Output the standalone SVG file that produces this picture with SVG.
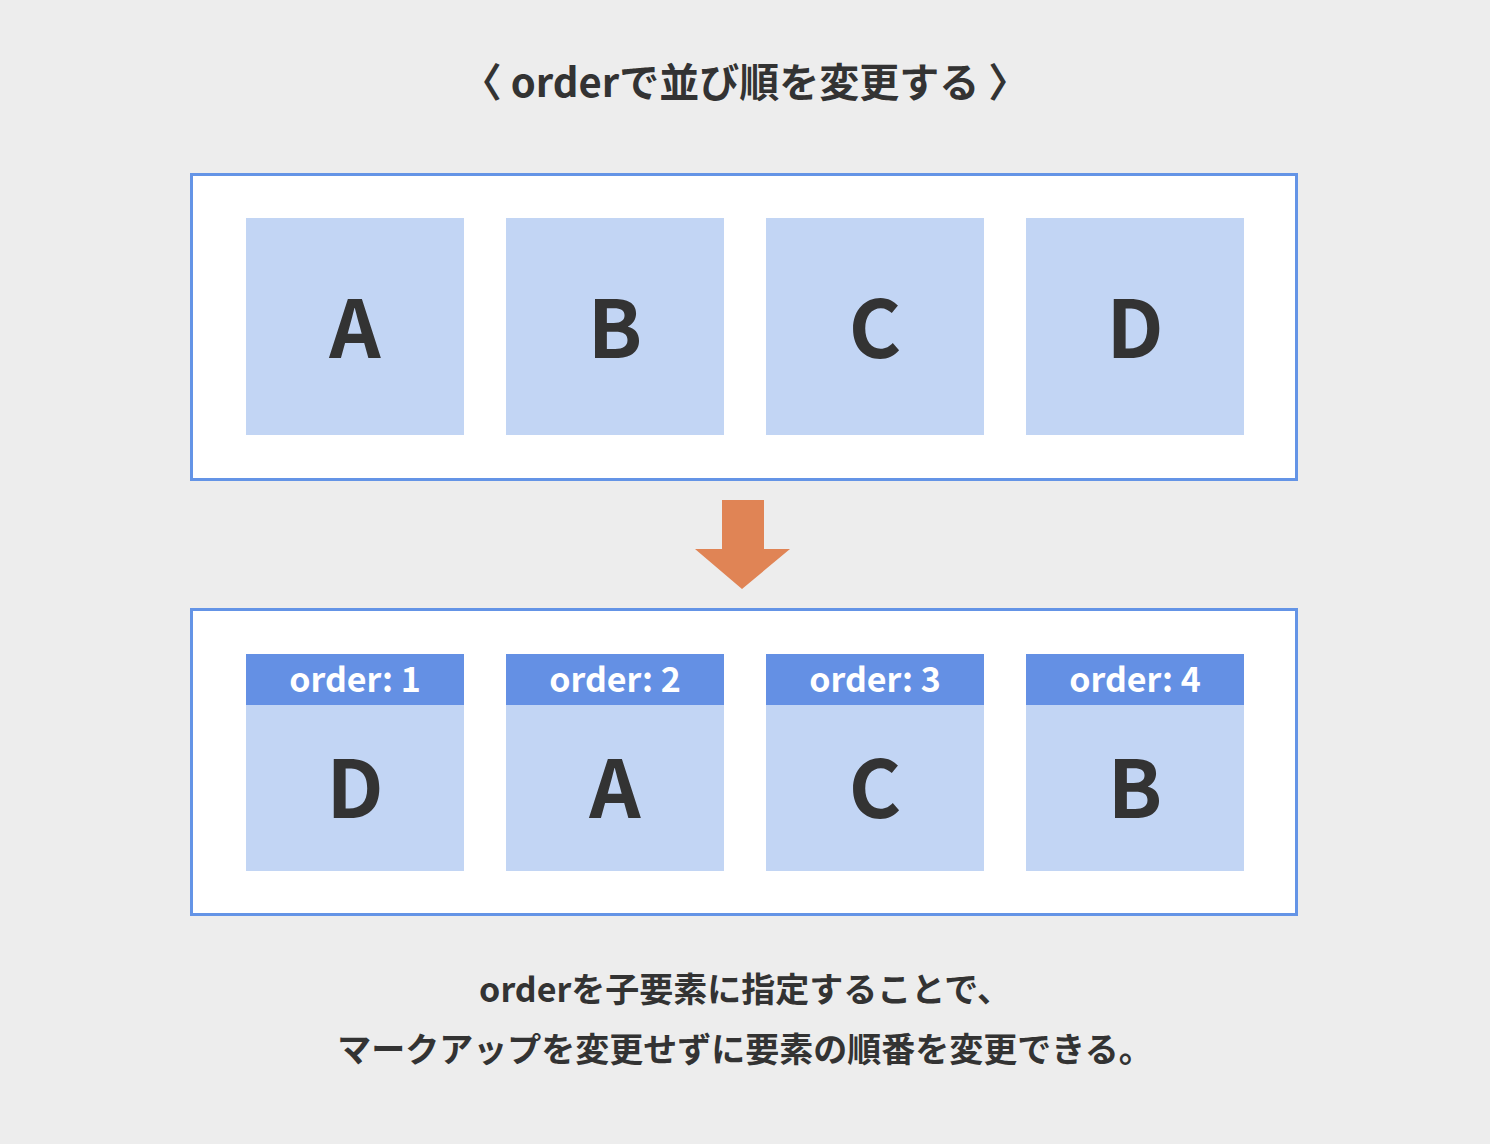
<svg xmlns="http://www.w3.org/2000/svg" width="1490" height="1144" viewBox="0 0 1490 1144">
<style>
text{font-family:"Noto Sans CJK JP","Noto Sans",sans-serif;font-weight:bold;fill:#333;text-anchor:middle}
.frame{fill:#fff;stroke:#6494e6;stroke-width:3}
.box{fill:#c2d5f4}
.hd{fill:#6490e4}
.big{font-size:80px}
.lbl{font-size:34px;fill:#fff}
.cap{font-size:34px}
</style>
<rect width="1490" height="1144" fill="#ededed"/>
<text x="745" y="97" font-size="40">〈 orderで並び順を変更する 〉</text>
<g id="before">
<rect class="frame" x="191.5" y="174.5" width="1105" height="305"/>
<g id="a1"><rect class="box" x="246" y="218" width="218" height="217"/><text class="big" x="355" y="358">A</text></g>
<g id="b1"><rect class="box" x="506" y="218" width="218" height="217"/><text class="big" x="615" y="358">B</text></g>
<g id="c1"><rect class="box" x="766" y="218" width="218" height="217"/><text class="big" x="875" y="358">C</text></g>
<g id="d1"><rect class="box" x="1026" y="218" width="218" height="217"/><text class="big" x="1135" y="358">D</text></g>
</g>
<g id="connectors"><polygon points="722,500 764,500 764,549 790,549 742,589 695,549 722,549" fill="#e08455"/></g>
<g id="after">
<rect class="frame" x="191.5" y="609.5" width="1105" height="305"/>
<g id="d2"><rect class="box" x="246" y="654" width="218" height="217"/><rect class="hd" x="246" y="654" width="218" height="51"/><text class="lbl" x="355" y="692">order: 1</text><text class="big" x="355" y="818">D</text></g>
<g id="a2"><rect class="box" x="506" y="654" width="218" height="217"/><rect class="hd" x="506" y="654" width="218" height="51"/><text class="lbl" x="615" y="692">order: 2</text><text class="big" x="615" y="818">A</text></g>
<g id="c2"><rect class="box" x="766" y="654" width="218" height="217"/><rect class="hd" x="766" y="654" width="218" height="51"/><text class="lbl" x="875" y="692">order: 3</text><text class="big" x="875" y="818">C</text></g>
<g id="b2"><rect class="box" x="1026" y="654" width="218" height="217"/><rect class="hd" x="1026" y="654" width="218" height="51"/><text class="lbl" x="1135" y="692">order: 4</text><text class="big" x="1135" y="818">B</text></g>
</g>
<text class="cap" x="745" y="1002">orderを子要素に指定することで、</text>
<text class="cap" x="745" y="1062">マークアップを変更せずに要素の順番を変更できる。</text>
</svg>
